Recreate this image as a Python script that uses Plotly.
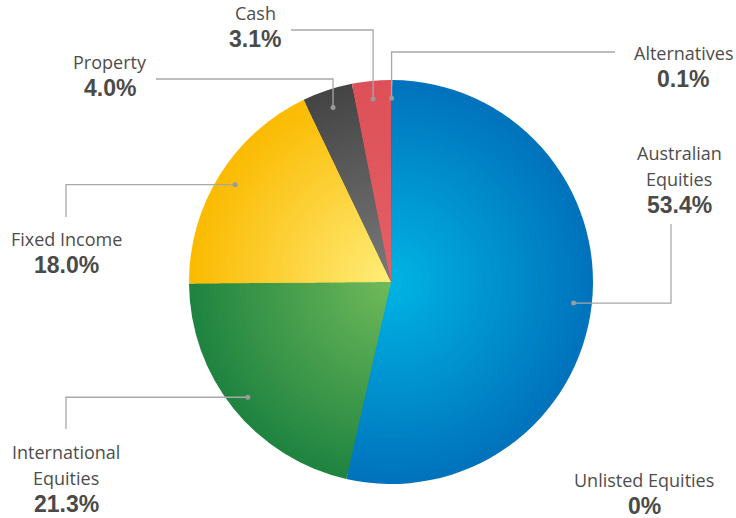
import math
import plotly.graph_objects as go

# ---- data ----
categories = ["Alternatives", "Australian Equities", "Unlisted Equities",
              "International Equities", "Fixed Income", "Property", "Cash"]
values = [0.1, 53.4, 0.0, 21.3, 18.0, 4.0, 3.1]
value_labels = ["0.1%", "53.4%", "0%", "21.3%", "18.0%", "4.0%", "3.1%"]
name_lines = [["Alternatives"], ["Australian", "Equities"], ["Unlisted Equities"],
              ["International", "Equities"], ["Fixed Income"], ["Property"], ["Cash"]]

# gradient colours (centre -> edge)
centre_cols = [(0, 150, 210), (0, 180, 228), (150, 150, 150), (112, 186, 90),
               (255, 237, 122), (122, 122, 122), (229, 96, 103)]
edge_cols = [(0, 120, 190), (0, 114, 187), (150, 150, 150), (30, 131, 64),
             (250, 186, 0), (68, 68, 68), (221, 80, 87)]

W, H = 736, 518
CX, CY, R = 391, 282, 202

fig = go.Figure()

def mix(a, b, t):
    return "rgb(%d,%d,%d)" % tuple(round(a[i] + (b[i] - a[i]) * t) for i in range(3))

N = 40
for k in range(N):
    f = 1 - k / N
    t = max(f - 0.5 / N, 0)
    cols = [mix(c, e, t) for c, e in zip(centre_cols, edge_cols)]
    rx = f * R / W
    ry = f * R / H
    cxp, cyp = CX / W, 1 - CY / H
    fig.add_trace(go.Pie(
        labels=categories, values=values, sort=False, direction="clockwise",
        rotation=0, textinfo="none", hoverinfo="label+percent" if k == 0 else "skip",
        marker=dict(colors=cols, line=dict(width=0)),
        domain=dict(x=[cxp - rx, cxp + rx], y=[cyp - ry, cyp + ry]),
        showlegend=False,
    ))

# ---- labels & leader lines ----
label_pos = {
    "Alternatives": (683, 53),
    "Australian Equities": (679, 153),
    "Unlisted Equities": (644, 480),
    "International Equities": (66, 452),
    "Fixed Income": (66, 239),
    "Property": (110, 62),
    "Cash": (255, 13),
}
leader = {
    "Alternatives": ((615, 52), "h"),
    "Australian Equities": ((671, 224), "v"),
    "International Equities": ((66, 429), "v"),
    "Fixed Income": ((66, 217), "v"),
    "Property": ((156, 79), "h"),
    "Cash": ((291, 30), "h"),
}

def px(x, y):
    return x / W, 1 - y / H

total = sum(values)
cum = 0.0
annotations = []
shapes = []
name_font = dict(family="Open Sans, Noto Sans, sans-serif", size=18, color="#4d4d4d")
val_font = dict(family="Liberation Sans, Arial, sans-serif", size=23, color="#4a4a4a")
line_col = "#a8a8a8"

for cat, v, vl, nl in zip(categories, values, value_labels, name_lines):
    mid = (cum + v / 2) / total * 2 * math.pi
    cum += v
    lx, ly = label_pos[cat]
    for i, s in enumerate(nl):
        x, y = px(lx, ly + 26 * i)
        annotations.append(dict(x=x, y=y, xref="paper", yref="paper", text=s,
                                showarrow=False, font=name_font,
                                xanchor="center", yanchor="middle"))
    x, y = px(lx, ly + 26 * len(nl))
    annotations.append(dict(x=x, y=y, xref="paper", yref="paper", text="<b>%s</b>" % vl,
                            showarrow=False, font=val_font,
                            xanchor="center", yanchor="middle"))
    if cat in leader:
        rr = 0.91 * R
        dx = CX + rr * math.sin(mid)
        dy = CY - rr * math.cos(mid)
        (sx, sy), mode = leader[cat]
        if mode == "h":
            pts = [(sx, sy), (dx, sy), (dx, dy)]
        else:
            pts = [(sx, sy), (sx, dy), (dx, dy)]
        path = "M " + " L ".join("%.5f,%.5f" % px(a, b) for a, b in pts)
        shapes.append(dict(type="path", path=path, xref="paper", yref="paper",
                           line=dict(color=line_col, width=1.3)))
        x0, y0 = px(dx - 2.5, dy - 2.5)
        x1, y1 = px(dx + 2.5, dy + 2.5)
        shapes.append(dict(type="circle", xref="paper", yref="paper",
                           x0=x0, y0=y1, x1=x1, y1=y0,
                           fillcolor="#9a9a9a", line=dict(width=0)))

fig.update_layout(
    width=W, height=H, margin=dict(l=0, r=0, t=0, b=0),
    paper_bgcolor="white", plot_bgcolor="white",
    annotations=annotations, shapes=shapes,
)

fig.write_html("out.html")
